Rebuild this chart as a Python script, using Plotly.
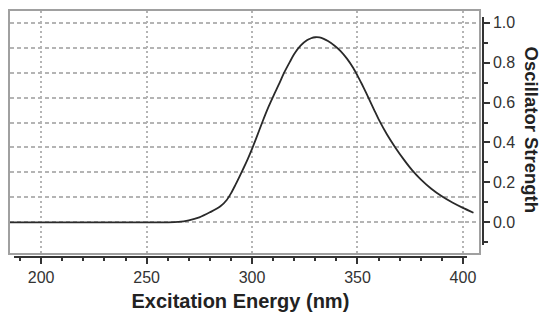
import plotly.graph_objects as go

# Data
wavelength_nm = [185, 200, 220, 240, 260, 265, 270, 275, 280, 285, 288, 290, 292, 294, 296,
                 298, 300, 302, 305, 308, 310, 313, 315, 318, 320, 323, 326, 328, 330, 332,
                 334, 336, 339, 342, 345, 348, 350, 352, 354, 356, 358, 360, 364, 368, 372,
                 376, 380, 385, 390, 395, 400, 405]
osc_strength = [0.0, 0.0, 0.0, 0.0, 0.0, 0.002, 0.01, 0.025, 0.05, 0.08, 0.112, 0.145, 0.185, 0.228, 0.272,
                0.318, 0.368, 0.422, 0.505, 0.583, 0.63, 0.697, 0.745, 0.805, 0.843, 0.885, 0.912, 0.922, 0.927, 0.926,
                0.919, 0.908, 0.886, 0.858, 0.82, 0.773, 0.735, 0.694, 0.651, 0.606, 0.561, 0.517, 0.44, 0.374, 0.314,
                0.26, 0.215, 0.168, 0.13, 0.099, 0.072, 0.048]

x_tick_vals = [200, 250, 300, 350, 400]
x_tick_text = ["200", "250", "300", "350", "400"]
y_tick_vals = [0.0, 0.2, 0.4, 0.6, 0.8, 1.0]
y_tick_text = ["0.0", "0.2", "0.4", "0.6", "0.8", "1.0"]
y_grid_vals = [0.0, 0.125, 0.25, 0.375, 0.5, 0.625, 0.75, 0.875, 1.0]

x_title = "Excitation Energy (nm)"
y_title = "Oscillator Strength"

# page layout (page pixels; the html body adds an 8px offset)
OFF = 8
W, H = 556 - OFF, 322 - OFF
L, R, T, B = 9.5, 483.0, 11.0, 257.0
PW, PH = R - L, B - T


def xp(px):
    return (px - L) / PW


def yp(py):
    return (B - py) / PH


FONT = "Liberation Sans, Arial, Helvetica, sans-serif"
TICKFONT = dict(family=FONT, size=16, color="#333333")

fig = go.Figure()
fig.add_trace(go.Scatter(x=wavelength_nm, y=osc_strength, mode="lines",
                         line=dict(color="#2a2a2a", width=1.8, shape="spline", smoothing=0.8),
                         showlegend=False, hoverinfo="skip"))
# invisible companion trace so that the offset tick axes are drawn
fig.add_trace(go.Scatter(x=wavelength_nm, y=osc_strength, xaxis="x2", yaxis="y2", mode="lines",
                         line=dict(width=0), opacity=0, showlegend=False, hoverinfo="skip"))

# x scale: 200 nm at page x 40.7, 2.111 px per nm
px_per_nm = 2.111


def nm_at(px):
    return 200 + (px - 40.7) / px_per_nm


# y scale: 0.0 at page y 222.3, 1.0 at 22.7
def f_at(py):
    return (222.3 - py) / 199.6


frame_r, frame_b = 479.3, 252.7
axis_x0, axis_x1 = 13.3, 467.0
axis_y0, axis_y1 = 17.3, 245.0

fig.update_layout(
    width=W, height=H,
    margin=dict(l=L - OFF, r=W - (R - OFF), t=T - OFF, b=H - (B - OFF), autoexpand=False),
    paper_bgcolor="white", plot_bgcolor="rgba(0,0,0,0)",
    xaxis=dict(domain=[0, xp(frame_r)],
               range=[nm_at(L), nm_at(frame_r)],
               tickvals=x_tick_vals, showticklabels=False, ticks="", automargin=False,
               showgrid=True, gridcolor="#b4b4b4", gridwidth=1.5, griddash="2px,3px",
               zeroline=False, showline=True, mirror=True, linecolor="#a0a0a0", linewidth=2),
    yaxis=dict(domain=[yp(frame_b), 1],
               range=[f_at(frame_b), f_at(T)],
               tickvals=y_grid_vals, showticklabels=False, ticks="", automargin=False,
               showgrid=True, gridcolor="#b4b4b4", gridwidth=1.5, griddash="4px,3px",
               zeroline=False, showline=True, mirror=True, linecolor="#a0a0a0", linewidth=2),
    xaxis2=dict(domain=[xp(axis_x0), xp(axis_x1)],
                range=[nm_at(axis_x0), nm_at(axis_x1)],
                anchor="free", position=0, side="bottom", automargin=False,
                tickvals=x_tick_vals, ticktext=x_tick_text, tickfont=TICKFONT,
                ticks="outside", ticklen=6, tickwidth=1.5, tickcolor="#333333",
                minor=dict(dtick=10, tick0=0, ticks="outside", ticklen=3, tickwidth=1.5, tickcolor="#333333"),
                showgrid=False, zeroline=False, showline=True, linecolor="#333333", linewidth=1.5,
                title=dict(text=x_title, font=dict(family=FONT, size=20, color="#222222", weight="bold"),
                           standoff=8)),
    yaxis2=dict(domain=[yp(axis_y1), yp(axis_y0)],
                range=[f_at(axis_y1), f_at(axis_y0)],
                anchor="free", position=1, side="right", automargin=False,
                tickvals=y_tick_vals, ticktext=y_tick_text, tickfont=TICKFONT,
                ticks="outside", ticklen=6, tickwidth=1.5, tickcolor="#333333",
                minor=dict(dtick=0.1, tick0=0, ticks="outside", ticklen=4, tickwidth=1.5, tickcolor="#333333"),
                showgrid=False, zeroline=False, showline=True, linecolor="#333333", linewidth=1.5),
    annotations=[dict(text=y_title, xref="paper", yref="paper",
                      x=xp(532.5), y=yp(130), xanchor="center", yanchor="middle",
                      textangle=90, showarrow=False,
                      font=dict(family=FONT, size=18.5, color="#222222", weight="bold"))],
)

fig.write_html("out.html")
